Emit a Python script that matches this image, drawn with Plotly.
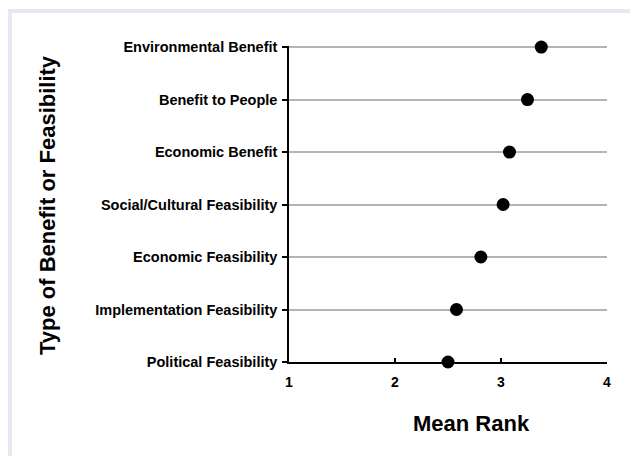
import plotly.graph_objects as go

# Data (top to bottom as shown)
categories = [
    "Environmental Benefit",
    "Benefit to People",
    "Economic Benefit",
    "Social/Cultural Feasibility",
    "Economic Feasibility",
    "Implementation Feasibility",
    "Political Feasibility",
]
mean_rank = [3.38, 3.25, 3.08, 3.02, 2.81, 2.58, 2.50]
x_ticks = [1, 2, 3, 4]

# The page body has an 8px margin; figure is sized to fill the rest of the window.
OFF = 8
W, H = 638 - OFF, 456 - OFF
# plot area in page pixels: x 289..607, y 46..362 (range slightly above top category)
L, R, T, B = 289 - OFF, 638 - 607, 46 - OFF, 456 - 362
PW, PH = W - L - R, H - T - B

def px_x(p):
    return (p - OFF - L) / PW

def px_y(p):
    return (H - B - (p - OFF)) / PH

FONT = "Arial, Liberation Sans, sans-serif"
LAV = "#e4e8f3"

fig = go.Figure()
fig.add_trace(go.Scatter(
    x=mean_rank,
    y=categories,
    mode="markers",
    marker=dict(size=13, color="black"),
    cliponaxis=False,
    showlegend=False,
    hoverinfo="x+y",
))

order_bottom_up = list(reversed(categories))

fig.update_layout(
    width=W, height=H,
    margin=dict(l=L, r=R, t=T, b=B, pad=0),
    paper_bgcolor="white",
    plot_bgcolor="white",
    font=dict(family=FONT, color="black"),
    xaxis=dict(
        range=[1, 4],
        tickvals=x_ticks,
        ticktext=[str(v) for v in x_ticks],
        ticks="inside", ticklen=4, tickwidth=1.5, tickcolor="black",
        showline=True, linecolor="black", linewidth=2,
        showgrid=False, zeroline=False,
        tickfont=dict(family=FONT, size=14, weight="bold", color="black"),
        ticklabelstandoff=6,
        layer="below traces",
    ),
    yaxis=dict(
        type="category",
        categoryorder="array", categoryarray=order_bottom_up,
        range=[0, 6.02],
        ticks="outside", ticklen=5, tickwidth=1.5, tickcolor="black",
        showline=True, linecolor="black", linewidth=1.5,
        showgrid=True, gridcolor="#b4b4b4", gridwidth=1.5,
        zeroline=False,
        tickfont=dict(family=FONT, size=14.5, weight="bold", color="black"),
        ticklabelstandoff=2,
        layer="below traces",
    ),
    shapes=[
        # lavender frame bands
        dict(type="rect", xref="paper", yref="paper", layer="below",
             x0=px_x(7), x1=px_x(12), y0=px_y(H + 20), y1=px_y(9),
             fillcolor=LAV, line=dict(width=0)),
        dict(type="rect", xref="paper", yref="paper", layer="below",
             x0=px_x(7), x1=px_x(637), y0=px_y(13), y1=px_y(9),
             fillcolor=LAV, line=dict(width=0)),
        dict(type="rect", xref="paper", yref="paper", layer="below",
             x0=px_x(633), x1=px_x(637), y0=px_y(H + 20), y1=px_y(9),
             fillcolor=LAV, line=dict(width=0)),
    ],
    annotations=[
        dict(text="<b>Mean Rank</b>", xref="paper", yref="paper",
             x=px_x(471), y=px_y(423), xanchor="center", yanchor="middle",
             showarrow=False, font=dict(family=FONT, size=22, color="black")),
        dict(text="<b>Type of Benefit or Feasibility</b>", xref="paper", yref="paper",
             x=px_x(47), y=px_y(205), xanchor="center", yanchor="middle",
             textangle=-90, showarrow=False,
             font=dict(family=FONT, size=22, color="black")),
    ],
)

fig.write_html("out.html")
